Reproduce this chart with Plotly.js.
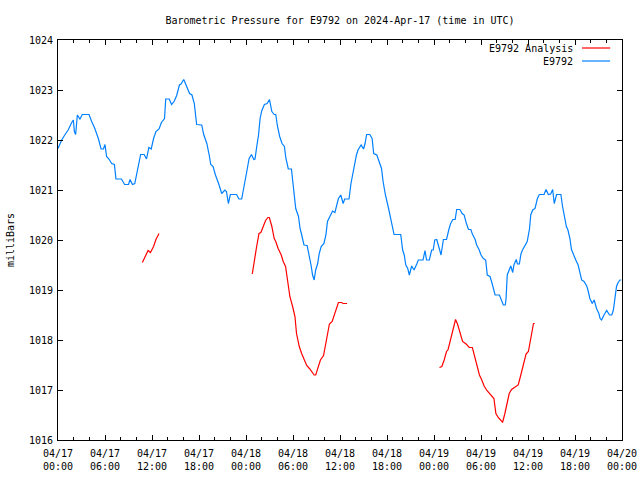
<!DOCTYPE html>
<html>
<head>
<meta charset="utf-8">
<script src="https://cdn.plot.ly/plotly-3.0.1.min.js"></script>
<style>html,body{margin:0;padding:0;background:#fff;}#chart{width:640px;height:480px;}</style>
</head>
<body>
<div id="chart"></div>
<script>
// Hours since 2024-04-17 00:00 UTC
const obsHours = [0,0.47,0.9,1.3,1.75,1.96,2.09,2.25,2.47,2.8,3.1,3.96,4.3,4.7,5.15,5.5,5.8,6.0,6.2,6.5,6.85,7.2,7.4,8.1,8.5,9.0,9.2,9.5,9.8,10.0,10.25,10.55,11.0,11.3,11.6,11.9,12.2,12.5,12.9,13.2,13.6,13.75,14.2,14.5,14.85,15.15,15.5,15.7,16.05,16.4,16.8,17.1,17.4,17.7,18.35,18.6,19.0,19.3,19.5,19.8,20.1,20.5,20.9,21.3,21.5,21.75,22.0,22.8,23.1,23.45,23.75,24.1,24.4,24.7,25.0,25.15,25.4,25.6,25.8,26.0,26.35,26.7,27.0,27.15,27.3,27.6,27.8,28.0,28.3,28.6,28.9,29.1,29.4,29.8,30.0,30.35,30.7,30.9,31.1,31.4,31.8,32.1,32.3,32.5,32.7,32.9,33.15,33.35,33.6,33.95,34.2,34.4,34.7,35.05,35.35,35.6,35.8,36.1,36.25,36.4,36.6,37.15,37.4,37.6,37.9,38.1,38.3,38.7,39.0,39.2,39.4,39.8,40.1,40.3,40.7,41.0,41.3,41.5,41.8,42.2,42.5,42.7,42.9,43.75,44.0,44.2,44.4,44.65,44.85,45.15,45.45,45.8,46.0,46.6,46.85,47.05,47.4,47.7,47.9,48.1,48.35,48.6,48.9,49.2,49.6,49.9,50.1,50.4,50.7,50.9,51.3,51.6,51.85,52.1,52.4,52.7,52.9,53.25,53.45,53.75,54.0,54.3,54.6,54.8,55.15,55.35,55.55,55.8,56.35,56.55,56.85,57.1,57.2,57.35,57.6,57.8,58.05,58.2,58.5,58.65,58.9,59.1,59.3,59.6,59.9,60.2,60.35,60.6,60.9,61.2,61.45,62.05,62.3,62.6,62.9,63.15,63.35,63.65,64.2,64.4,64.7,64.9,65.1,65.35,65.55,65.85,66.1,66.4,66.6,66.85,67.15,67.5,67.7,67.9,68.2,68.45,68.75,69.05,69.2,69.4,69.7,70.05,70.4,70.7,70.9,71.1,71.3,71.5,71.75,71.9];
const obsPressure = [1021.83,1022.0,1022.11,1022.2,1022.35,1022.4,1022.17,1022.11,1022.5,1022.42,1022.51,1022.51,1022.37,1022.23,1022.03,1021.82,1021.82,1021.91,1021.67,1021.62,1021.53,1021.51,1021.22,1021.22,1021.11,1021.11,1021.21,1021.11,1021.13,1021.27,1021.5,1021.71,1021.71,1021.62,1021.85,1021.82,1022.03,1022.17,1022.22,1022.35,1022.43,1022.82,1022.82,1022.71,1022.78,1022.89,1023.1,1023.12,1023.21,1023.09,1022.93,1022.9,1022.73,1022.31,1022.3,1022.11,1021.93,1021.7,1021.51,1021.47,1021.3,1021.13,1020.93,1021.0,1020.97,1020.73,1020.91,1020.91,1020.82,1020.82,1021.05,1021.37,1021.63,1021.71,1021.61,1021.62,1021.9,1022.1,1022.43,1022.58,1022.71,1022.73,1022.81,1022.71,1022.57,1022.51,1022.51,1022.29,1022.07,1021.93,1021.87,1021.63,1021.42,1021.42,1021.1,1020.63,1020.47,1020.23,1020.11,1019.9,1019.89,1019.67,1019.5,1019.3,1019.2,1019.4,1019.53,1019.73,1019.87,1019.93,1020.1,1020.37,1020.47,1020.58,1020.55,1020.73,1020.83,1020.9,1020.83,1020.73,1020.82,1020.82,1021.13,1021.3,1021.53,1021.7,1021.8,1021.9,1021.82,1021.93,1022.11,1022.11,1022.03,1021.73,1021.7,1021.57,1021.43,1021.17,1020.9,1020.63,1020.43,1020.29,1020.11,1020.11,1019.8,1019.7,1019.5,1019.43,1019.3,1019.48,1019.4,1019.52,1019.6,1019.6,1019.79,1019.6,1019.6,1019.8,1019.8,1020.0,1020.01,1019.87,1019.7,1020.01,1020.01,1020.21,1020.32,1020.41,1020.41,1020.61,1020.61,1020.53,1020.5,1020.35,1020.21,1020.21,1020.12,1020.01,1019.9,1019.81,1019.7,1019.63,1019.6,1019.3,1019.27,1019.17,1019.07,1018.9,1018.9,1018.8,1018.7,1018.7,1018.83,1019.3,1019.4,1019.48,1019.35,1019.5,1019.61,1019.52,1019.52,1019.72,1019.8,1019.9,1019.97,1020.23,1020.5,1020.6,1020.63,1020.83,1020.91,1020.91,1021.01,1020.91,1020.92,1021.01,1020.73,1020.91,1020.91,1020.68,1020.47,1020.27,1020.2,1020.03,1019.81,1019.67,1019.6,1019.5,1019.33,1019.2,1019.17,1019.08,1018.97,1018.83,1018.73,1018.8,1018.63,1018.53,1018.43,1018.4,1018.5,1018.59,1018.5,1018.5,1018.6,1018.83,1019.07,1019.15,1019.2,1019.2];

// Analysis: three segments separated by null gaps
const anaHours = [10.77,11.1,11.5,11.8,12.2,12.5,12.9, null,
  24.8,25.06,25.36,25.66,25.9,26.2,26.5,26.8,26.98,27.3,27.6,27.8,28.1,28.5,28.75,29.05,29.3,29.6,29.95,30.25,30.45,30.8,31.1,31.4,31.75,32.1,32.4,32.7,32.9,33.25,33.5,33.9,34.1,34.4,34.65,35.0,35.3,35.6,35.8,36.2,36.4,36.9, null,
  48.7,49.0,49.3,49.6,49.8,50.1,50.45,50.75,51.0,51.3,51.65,52.1,52.5,52.9,53.15,53.45,53.8,54.1,54.4,54.75,55.1,55.35,55.65,55.9,56.2,56.5,56.75,57.05,57.35,57.6,57.9,58.35,58.75,59.05,59.4,59.75,60.05,60.25,60.45,60.7,60.85];
const anaPressure = [1019.55,1019.65,1019.79,1019.75,1019.87,1020.01,1020.13, null,
  1019.32,1019.61,1019.87,1020.13,1020.15,1020.27,1020.39,1020.45,1020.45,1020.27,1020.03,1019.97,1019.83,1019.7,1019.57,1019.47,1019.17,1018.87,1018.67,1018.47,1018.13,1017.87,1017.73,1017.6,1017.49,1017.43,1017.37,1017.3,1017.3,1017.47,1017.6,1017.69,1017.87,1018.1,1018.32,1018.37,1018.5,1018.63,1018.75,1018.75,1018.73,1018.73, null,
  1017.45,1017.47,1017.6,1017.77,1017.81,1018.0,1018.23,1018.41,1018.32,1018.13,1017.97,1017.92,1017.85,1017.85,1017.7,1017.48,1017.3,1017.2,1017.08,1016.99,1016.93,1016.89,1016.83,1016.53,1016.45,1016.4,1016.35,1016.53,1016.75,1016.93,1017.01,1017.05,1017.1,1017.28,1017.5,1017.72,1017.77,1017.97,1018.17,1018.33,1018.33];

const tickHours = [0,6,12,18,24,30,36,42,48,54,60,66,72];
const tickLabels = ["04/17<br>00:00","04/17<br>06:00","04/17<br>12:00","04/17<br>18:00",
  "04/18<br>00:00","04/18<br>06:00","04/18<br>12:00","04/18<br>18:00",
  "04/19<br>00:00","04/19<br>06:00","04/19<br>12:00","04/19<br>18:00","04/20<br>00:00"];
const seriesNames = ["E9792 Analysis","E9792"];
const seriesColors = ["#ff0000","#0080ff"];

const FONT = "DejaVu Sans Mono";

const traces = [
  {x: anaHours, y: anaPressure, type: 'scatter', mode: 'lines', name: seriesNames[0],
   connectgaps: false, line: {color: seriesColors[0], width: 1.2}},
  {x: obsHours, y: obsPressure, type: 'scatter', mode: 'lines', name: seriesNames[1],
   line: {color: seriesColors[1], width: 1.2}}
];

const legendAnn = seriesNames.map((n, i) => ({
  text: n, xref: 'paper', yref: 'paper', x: 0.917, y: 0.98 - i * 0.0325,
  xanchor: 'right', yanchor: 'middle', showarrow: false,
  font: {family: FONT, size: 10, color: '#000'}
}));
const legendShapes = seriesColors.map((c, i) => ({
  type: 'line', xref: 'paper', yref: 'paper', x0: 0.929, x1: 0.979,
  y0: 0.98 - i * 0.0325, y1: 0.98 - i * 0.0325,
  line: {color: c, width: 1.2}
}));

const axisCommon = {
  showgrid: false, zeroline: false, showline: true, linecolor: '#000', linewidth: 1,
  mirror: 'ticks', ticks: 'inside', ticklen: 5, tickcolor: '#000', tickwidth: 1,
  tickfont: {family: FONT, size: 10, color: '#000'}
};

const layout = {
  width: 640, height: 480,
  margin: {l: 58, r: 18, t: 40, b: 40},
  paper_bgcolor: '#fff', plot_bgcolor: '#fff',
  showlegend: false,
  font: {family: FONT, size: 10, color: '#000'},
  title: {text: 'Barometric Pressure for E9792 on 2024-Apr-17 (time in UTC)',
    x: 0.53125, xanchor: 'center', xref: 'container', y: 1 - 20/480, yanchor: 'middle', yref: 'container',
    font: {family: FONT, size: 10, color: '#000'}},
  xaxis: Object.assign({}, axisCommon, {
    range: [0, 72], tickmode: 'array', tickvals: tickHours, ticktext: tickLabels,
    ticklabelstandoff: 4,
    minor: {tickmode: 'linear', tick0: 0, dtick: 2, ticks: 'inside', ticklen: 3, tickcolor: '#000', showgrid: false}
  }),
  yaxis: Object.assign({}, axisCommon, {
    range: [1016, 1024], tickmode: 'linear', tick0: 1016, dtick: 1,
    ticklabelstandoff: 2,
    title: {text: 'milliBars', font: {family: FONT, size: 10, color: '#000'}, standoff: 12}
  }),
  annotations: legendAnn,
  shapes: legendShapes
};

Plotly.newPlot('chart', traces, layout, {staticPlot: true, displayModeBar: false});
</script>
</body>
</html>
